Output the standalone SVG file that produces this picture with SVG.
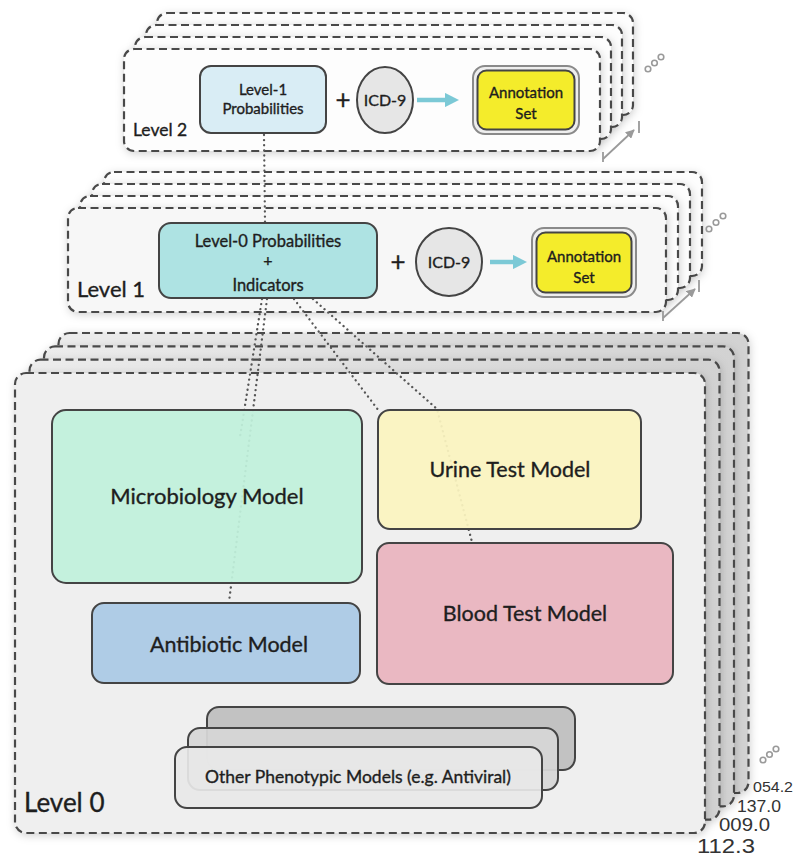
<svg xmlns="http://www.w3.org/2000/svg" width="796" height="861" viewBox="0 0 796 861">
<defs>
<filter id="sh" x="-10%" y="-10%" width="120%" height="125%">
<feDropShadow dx="1" dy="2" stdDeviation="4" flood-color="#000" flood-opacity="0.18"/>
</filter>
<linearGradient id="g0" x1="0" y1="0" x2="1" y2="0">
<stop offset="0" stop-color="#ececec"/>
<stop offset="1" stop-color="#d2d2d2"/>
</linearGradient>
<marker id="cy" viewBox="0 0 10 10" refX="5" refY="5" markerWidth="3.2" markerHeight="3.2" orient="auto">
<path d="M0,0 L10,5 L0,10 z" fill="#7cc9d6"/>
</marker>
<marker id="gy" viewBox="0 0 10 10" refX="9" refY="5" markerWidth="5" markerHeight="5" orient="auto">
<path d="M0,0 L10,5 L0,10 z" fill="#9a9a9a"/>
</marker>
<style>
.fr{stroke:#4a4a4a;stroke-width:2.2;stroke-dasharray:8 4.5}
.f2{fill:#fdfdfd}
.f1{fill:#f7f7f7}
.f0b{fill:url(#g0)}
.f0{fill:#efefef}
.box{stroke:#444;stroke-width:2}
.t{font-family:Lato,"Open Sans","Liberation Sans",sans-serif;fill:#1e1e1e;stroke:#1e1e1e;stroke-width:0.35;text-anchor:middle}
.lv{font-family:Lato,"Open Sans","Liberation Sans",sans-serif;fill:#1e1e1e;stroke:#1e1e1e;stroke-width:0.35}
.num{font-family:"Liberation Sans",Arial,sans-serif;fill:#333}
.dot{fill:none;stroke:#555;stroke-width:2.3;stroke-dasharray:0.1 5;stroke-linecap:round}
.cyan{stroke:#7cc9d6;stroke-width:4.5;fill:none}
.ga{stroke:#9a9a9a;stroke-width:1.8;fill:none}
.oo{fill:none;stroke:#9a9a9a;stroke-width:1.6}
</style>
</defs>
<rect width="796" height="861" fill="#ffffff"/>

<!-- Level 0 frames -->
<g id="level0-frames">
<rect class="fr f0b" x="58.5" y="333" width="690" height="460" rx="11" filter="url(#sh)"/>
<rect class="fr f0b" x="44" y="346.4" width="690" height="460" rx="11" filter="url(#sh)"/>
<rect class="fr f0b" x="29.5" y="359.7" width="690" height="460" rx="11" filter="url(#sh)"/>
<rect class="fr f0" x="15" y="373" width="690" height="460" rx="11" filter="url(#sh)"/>
<text class="lv" x="24" y="812" font-size="26">Level 0</text>
<g class="oo"><circle cx="763" cy="760" r="2.8"/><circle cx="769.5" cy="754.5" r="2.8"/><circle cx="776" cy="749" r="2.8"/></g>
<text class="num" x="753" y="792" font-size="14" textLength="40" lengthAdjust="spacingAndGlyphs">054.2</text>
<text class="num" x="737" y="812" font-size="16" textLength="44" lengthAdjust="spacingAndGlyphs">137.0</text>
<text class="num" x="719" y="831" font-size="17.5" textLength="51" lengthAdjust="spacingAndGlyphs">009.0</text>
<text class="num" x="697" y="853" font-size="19.5" textLength="58" lengthAdjust="spacingAndGlyphs">112.3</text>
</g>

<!-- Level 1 frames -->
<g id="level1-frames">
<rect class="fr f2" x="104" y="172" width="598" height="104" rx="10" filter="url(#sh)"/>
<rect class="fr f2" x="92" y="184" width="598" height="104" rx="10" filter="url(#sh)"/>
<rect class="fr f2" x="80" y="196" width="598" height="104" rx="10" filter="url(#sh)"/>
<rect class="fr f1" x="68" y="208" width="598" height="104" rx="10" filter="url(#sh)"/>
<text class="lv" x="77" y="297" font-size="22">Level 1</text>
<g class="oo"><circle cx="709" cy="229" r="2.8"/><circle cx="716" cy="222.5" r="2.8"/><circle cx="723" cy="216" r="2.8"/></g>
<g class="ga"><path d="M663,318 L695,289" marker-end="url(#gy)"/><path d="M663,311 L663,321"/><path d="M699,280 L699,292"/></g>
</g>

<!-- Level 2 frames -->
<g id="level2-frames">
<rect class="fr f2" x="157" y="13" width="476" height="102" rx="10" filter="url(#sh)"/>
<rect class="fr f2" x="146" y="25" width="476" height="102" rx="10" filter="url(#sh)"/>
<rect class="fr f2" x="135" y="37" width="476" height="102" rx="10" filter="url(#sh)"/>
<rect class="fr f2" x="124" y="49" width="476" height="102" rx="10" filter="url(#sh)"/>
<text class="lv" x="133" y="136" font-size="17.5">Level 2</text>
<g class="oo"><circle cx="648" cy="69" r="2.8"/><circle cx="654.5" cy="63" r="2.8"/><circle cx="661" cy="57" r="2.8"/></g>
<g class="ga"><path d="M603,159 L634,130" marker-end="url(#gy)"/><path d="M603,152 L603,162"/><path d="M639,121 L639,133"/></g>
</g>

<!-- connectors -->
<g id="connectors">
<path class="dot" d="M264,135 L265,222"/>
<path class="dot" d="M262,299 L240,437"/>
<path class="dot" d="M267,299 L229,602"/>
<path class="dot" d="M294,299 L379,411"/>
<path class="dot" d="M313,299 L437,409 L472,542"/>
</g>

<!-- Level 2 nodes -->
<g id="l2-probs">
<rect class="box" x="200" y="66" width="126" height="67" rx="11" fill="#d9edf5"/>
<text class="t" x="263" y="95" font-size="15">Level-1</text>
<text class="t" x="263" y="114" font-size="15">Probabilities</text>
</g>
<g id="l2-plus"><text class="t" x="343" y="109" font-size="26">+</text></g>
<g id="l2-icd9">
<ellipse class="box" cx="385" cy="100" rx="28" ry="33" fill="#e6e6e6"/>
<text class="t" x="385" y="106" font-size="16">ICD-9</text>
</g>
<g id="l2-arrow"><path class="cyan" d="M417,100 L452,100" marker-end="url(#cy)"/></g>
<g id="l2-annotation">
<rect x="473" y="66" width="106" height="68" rx="12" fill="#eeeeee" stroke="#8a8a8a" stroke-width="2"/>
<rect class="box" x="477.5" y="70.5" width="97" height="59" rx="9" fill="#f4ec2b"/>
<text class="t" x="526" y="98" font-size="15">Annotation</text>
<text class="t" x="526" y="119" font-size="15">Set</text>
</g>

<!-- Level 1 nodes -->
<g id="l1-probs">
<rect class="box" x="159" y="223" width="218" height="75" rx="12" fill="#aee3e3"/>
<text class="t" x="268" y="247" font-size="16.5">Level-0 Probabilities</text>
<text class="t" x="268" y="266" font-size="16">+</text>
<text class="t" x="268" y="291" font-size="16.5">Indicators</text>
</g>
<g id="l1-plus"><text class="t" x="398" y="271" font-size="26">+</text></g>
<g id="l1-icd9">
<ellipse class="box" cx="449" cy="262" rx="33" ry="34" fill="#e6e6e6"/>
<text class="t" x="449" y="268" font-size="16">ICD-9</text>
</g>
<g id="l1-arrow"><path class="cyan" d="M490,262 L520,262" marker-end="url(#cy)"/></g>
<g id="l1-annotation">
<rect x="532" y="228" width="104" height="69" rx="12" fill="#eeeeee" stroke="#8a8a8a" stroke-width="2"/>
<rect class="box" x="536.5" y="232.5" width="95" height="60" rx="9" fill="#f4ec2b"/>
<text class="t" x="584" y="262" font-size="15">Annotation</text>
<text class="t" x="584" y="283" font-size="15">Set</text>
</g>

<!-- Level 0 nodes -->
<g id="microbiology">
<rect class="box" x="52" y="410" width="310" height="173" rx="14" fill="#c1f1dc" fill-opacity="0.93"/>
<text class="t" x="207" y="504" font-size="22">Microbiology Model</text>
</g>
<g id="antibiotic">
<rect class="box" x="92" y="603" width="268" height="80" rx="12" fill="#afcce6"/>
<text class="t" x="229" y="652" font-size="21.5">Antibiotic Model</text>
</g>
<g id="urine">
<rect class="box" x="378" y="410" width="263" height="119" rx="12" fill="#fbf4c0" fill-opacity="0.93"/>
<text class="t" x="510" y="477" font-size="21.5">Urine Test Model</text>
</g>
<g id="blood">
<rect class="box" x="377" y="543" width="296" height="141" rx="12" fill="#eab8c2"/>
<text class="t" x="525" y="621" font-size="21.5">Blood Test Model</text>
</g>
<g id="other-models">
<rect class="box" x="207" y="707" width="368" height="63" rx="12" fill="#c2c2c2"/>
<rect class="box" x="188" y="728" width="370" height="62" rx="12" fill="#d6d6d6" fill-opacity="0.95"/>
<rect class="box" x="175" y="747" width="367" height="61" rx="12" fill="#e8e8e8" fill-opacity="0.92"/>
<text class="t" x="358" y="783" font-size="17.5">Other Phenotypic Models (e.g. Antiviral)</text>
</g>
</svg>
